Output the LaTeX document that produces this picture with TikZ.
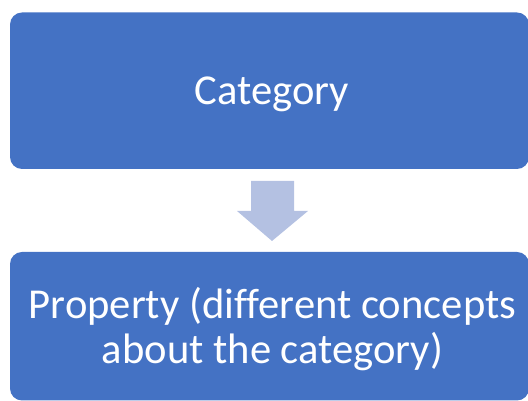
\documentclass[tikz,border=0pt]{standalone}
\usepackage{fontspec}
\setmainfont[Ligatures=NoCommon]{Carlito}
\definecolor{boxblue}{HTML}{4472C4}
\definecolor{arrowblue}{HTML}{B4C1E2}
\tikzset{
  flowbox/.style={fill=boxblue, draw=none, rounded corners=12pt},
  boxtext/.style={text=white, font=\fontsize{42.6}{45}\selectfont, anchor=base, inner sep=0pt},
}
\begin{document}
\begin{tikzpicture}[x=1pt,y=1pt]
\useasboundingbox (0,0) rectangle (528,401);
\clip (0,0) rectangle (528,401);
\fill[flowbox] (10,232) rectangle (529,388.5);
\node[boxtext] (cat) at (272,296) {Category};
\fill[flowbox] (10,0.5) rectangle (529,149);
\node[boxtext] (prop1) at (272.5,82) {Property (different concepts};
\node[boxtext] (prop2) at (272.5,37) {about the category)};
\fill[arrowblue] (251,220) -- (294,220) -- (294,190) -- (308,190) -- (272,160) -- (237,190) -- (251,190) -- cycle;
\end{tikzpicture}
\end{document}
